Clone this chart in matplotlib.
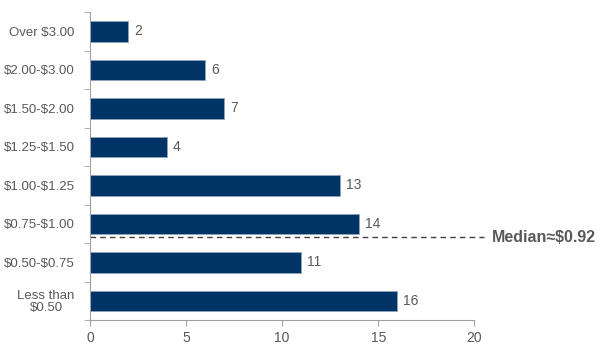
import matplotlib
matplotlib.use("Agg")
import matplotlib.pyplot as plt
import numpy as np

categories = ["Less than\n$0.50", "$0.50-$0.75", "$0.75-$1.00", "$1.00-$1.25",
              "$1.25-$1.50", "$1.50-$2.00", "$2.00-$3.00", "Over $3.00"]
values = [16, 11, 14, 13, 4, 7, 6, 2]
median_label = "Median\u2248$0.92"
median_pos = 1.65
xticks = [0, 5, 10, 15, 20]

plt.rcParams['font.family'] = ['Liberation Sans', 'DejaVu Sans']
gray = '#595959'
navy = '#003366'

def esc(s):
    return s.replace('$', r'\$')

fig = plt.figure(figsize=(6.1, 3.58), dpi=100)
ax = fig.add_axes([0.1475, 0.106, 0.63, 0.86])
y = np.arange(len(categories))
ax.barh(y, values, height=0.53, color=navy, edgecolor='#8fa3bf', linewidth=0.6)
for yi, v in zip(y, values):
    ax.text(v + 0.3, yi, str(v), va='center', ha='left', fontsize=10, color=gray)

ax.set_xlim(0, 20)
ax.set_ylim(-0.5, len(categories) - 0.5)
ax.set_xticks(xticks)
ax.set_yticks(y)
ax.set_yticklabels([esc(c) for c in categories])
ax.set_yticks(np.arange(-0.5, len(categories), 1), minor=True)
ax.tick_params(axis='y', which='major', length=0, pad=11, labelsize=9.5, labelcolor=gray)
ax.tick_params(axis='y', which='minor', length=4, color='#a0a0a0', direction='out')
ax.tick_params(axis='x', length=4, color='#a0a0a0', labelsize=10, labelcolor=gray, pad=4)
for s in ['top', 'right']:
    ax.spines[s].set_visible(False)
for s in ['left', 'bottom']:
    ax.spines[s].set_color('#a0a0a0')
for lbl in ax.get_yticklabels():
    lbl.set_multialignment('center')
    lbl.set_linespacing(1.0)

ax.plot([0, 20.5], [median_pos, median_pos], ls=(0, (4, 3)), color='#404040', lw=1.0, clip_on=False)
ax.text(20.9, median_pos, esc(median_label), va='center', ha='left', fontsize=11.5,
        fontweight='bold', color=gray)

fig.savefig("out.png", dpi=100)
